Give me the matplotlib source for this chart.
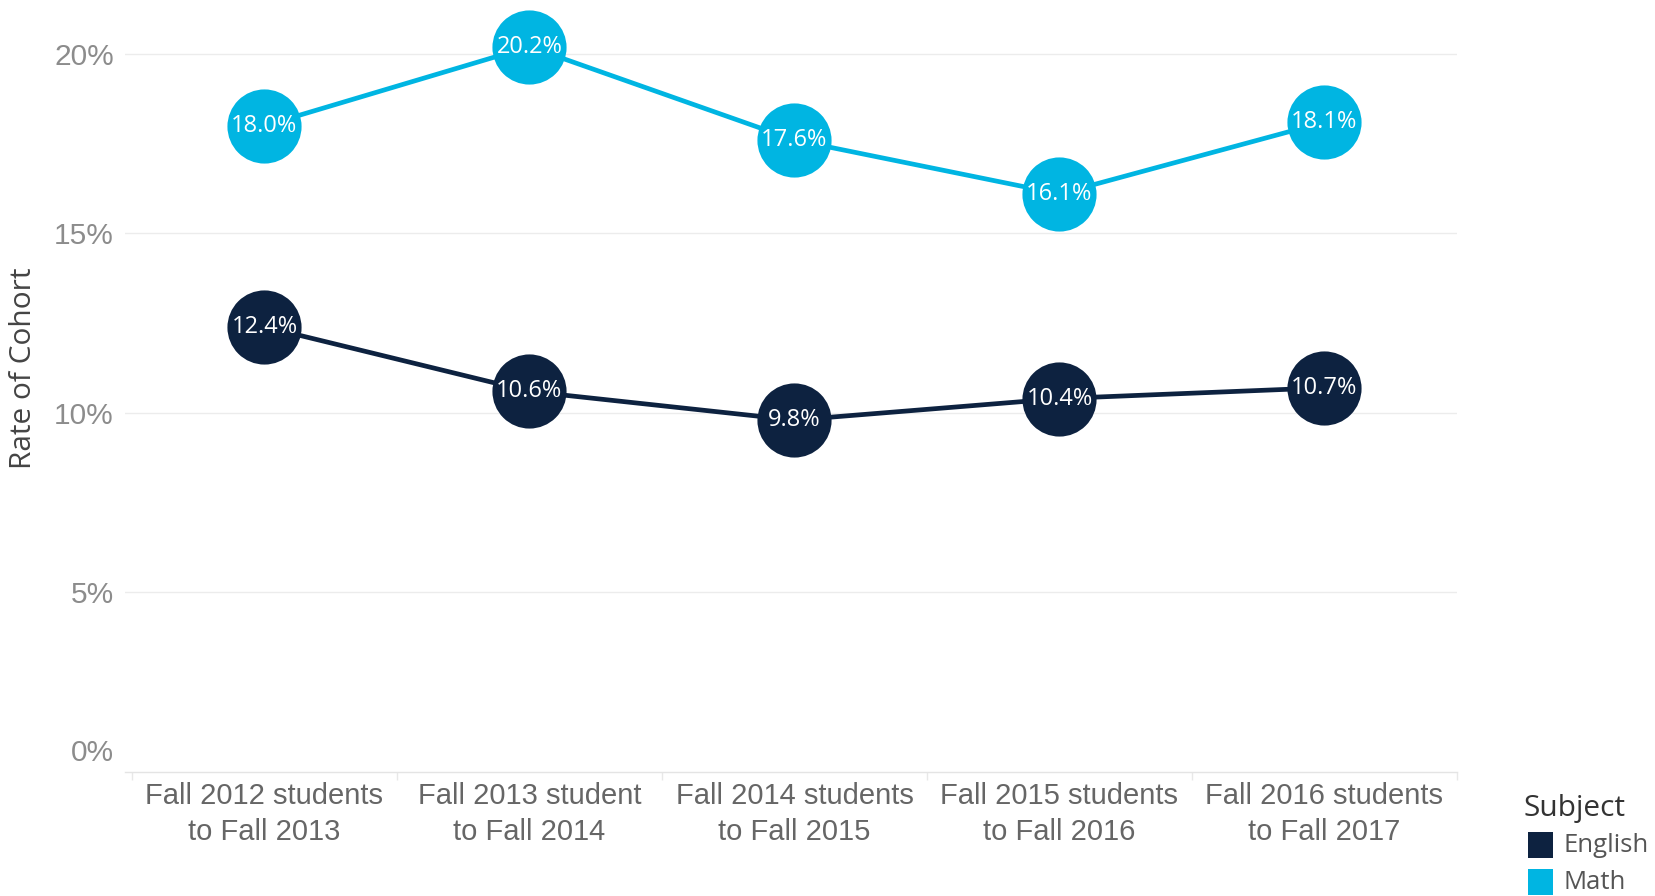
import matplotlib
matplotlib.use("Agg")
import matplotlib.pyplot as plt
from matplotlib.patches import Rectangle
from matplotlib.transforms import ScaledTranslation

# Cohort persistence rates by subject
cohorts = [
    "Fall 2012 students\nto Fall 2013",
    "Fall 2013 student\nto Fall 2014",
    "Fall 2014 students\nto Fall 2015",
    "Fall 2015 students\nto Fall 2016",
    "Fall 2016 students\nto Fall 2017",
]
english = [12.4, 10.6, 9.8, 10.4, 10.7]
math_rates = [18.0, 20.2, 17.6, 16.1, 18.1]
subjects = ["English", "Math"]
colors = {"English": "#0d2240", "Math": "#00b5e2"}
yticks = [0, 5, 10, 15, 20]

fig = plt.figure(figsize=(16.56, 8.96), dpi=100)
ax = fig.add_axes([125 / 1656, 124 / 896, (1457 - 125) / 1656, (896 - 124) / 896])

x = list(range(len(cohorts)))
for name, vals in (("English", english), ("Math", math_rates)):
    c = colors[name]
    ax.plot(x, vals, color=c, lw=3.4, zorder=2, solid_capstyle="round")
    ax.scatter(x, vals, s=2850, color=c, zorder=3, linewidths=0)
    for xi, v in zip(x, vals):
        ax.text(xi, v, f"{v:.1f}%", ha="center", va="center", color="white",
                fontsize=17, family="Open Sans", zorder=4)

ax.set_xlim(-0.526, 4.5)
ax.set_ylim(0, 21.5)

ax.set_yticks(yticks)
ax.set_yticklabels([f"{t}%" for t in yticks], fontsize=21.5, color="#8c8c8c",
                   family="Liberation Sans")
ax.set_xticks(x)
ax.set_xticklabels(cohorts, fontsize=21, color="#666666", family="Liberation Sans",
                   linespacing=1.35)
ax.set_xticks([i - 0.5 for i in range(len(cohorts) + 1)], minor=True)

ax.tick_params(axis="y", length=0, pad=8)
ax.tick_params(axis="x", which="major", length=0, pad=7.5)
ax.tick_params(axis="x", which="minor", length=6, width=1, color="#e8e8e8")

# nudge the 0% label above the baseline
for lbl in ax.get_yticklabels():
    if lbl.get_text() == "0%":
        lbl.set_transform(lbl.get_transform() + ScaledTranslation(0, 0.22, fig.dpi_scale_trans))

for t in [5, 10, 15, 20]:
    ax.axhline(t, color="#ececec", lw=1, zorder=0)

for s in ["top", "right", "left"]:
    ax.spines[s].set_visible(False)
ax.spines["bottom"].set_color("#e4e4e4")
ax.spines["bottom"].set_linewidth(1)

fig.text(24 / 1656, 1 - 368 / 896, "Rate of Cohort", rotation=90, ha="center", va="center",
         fontsize=21.5, color="#444444", family="Open Sans")

# legend
fig.text(1524 / 1656, 1 - 808 / 896, "Subject", ha="left", va="center",
         fontsize=21.5, color="#333333", family="Open Sans")
for i, name in enumerate(subjects):
    yc = 845 + i * 37
    fig.patches.append(Rectangle((1528 / 1656, 1 - (yc + 13) / 896), 25 / 1656, 26 / 896,
                                 transform=fig.transFigure, facecolor=colors[name],
                                 edgecolor="none"))
    fig.text(1564 / 1656, 1 - yc / 896, name, ha="left", va="center",
             fontsize=18.5, color="#555555", family="Open Sans")

fig.savefig("out.png", dpi=100)
